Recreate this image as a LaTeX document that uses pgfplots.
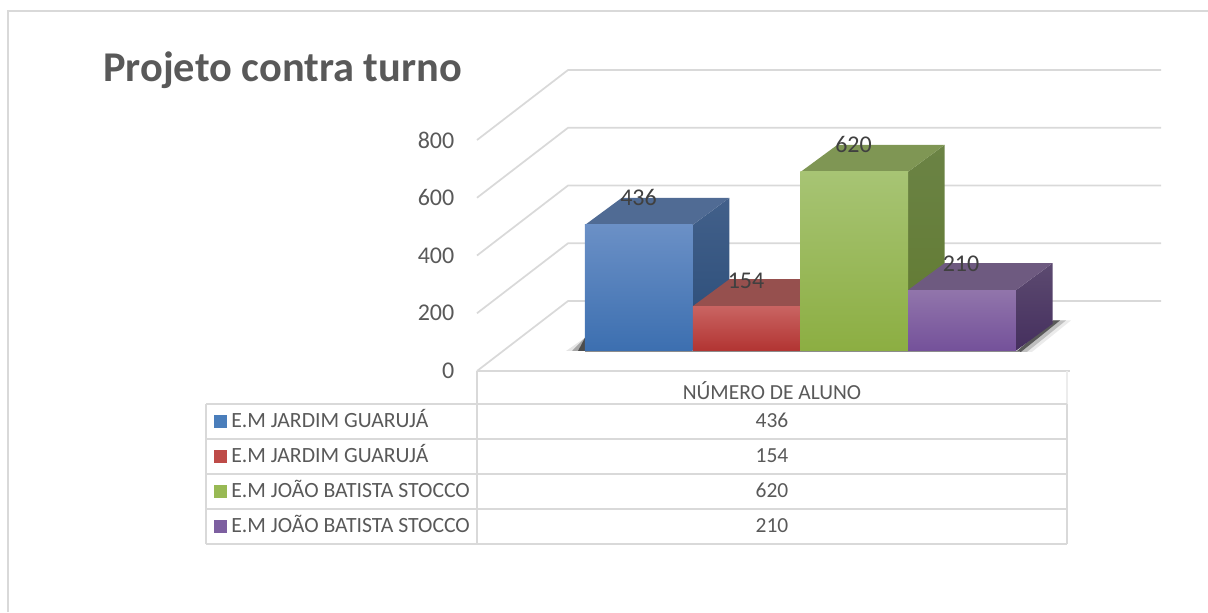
\documentclass[border=0pt]{standalone}
\usepackage{fontspec}
\setmainfont{Carlito}
\usepackage{pgfplots}
\pgfplotsset{compat=1.18}

\definecolor{txt}{HTML}{595959}
\definecolor{lbl}{HTML}{404040}
\definecolor{rule}{HTML}{D9D9D9}

\definecolor{blueF}{HTML}{4A7EBB}
\definecolor{blueF1}{HTML}{6B90C6}
\definecolor{blueF2}{HTML}{3C6FB0}
\definecolor{blueT}{HTML}{506B94}
\definecolor{blueS1}{HTML}{42608A}
\definecolor{blueS2}{HTML}{2A4C78}
\definecolor{redF}{HTML}{BE4B48}
\definecolor{redF1}{HTML}{C96462}
\definecolor{redF2}{HTML}{B23432}
\definecolor{redT}{HTML}{96504E}
\definecolor{greenF}{HTML}{98B954}
\definecolor{greenF1}{HTML}{A7C474}
\definecolor{greenF2}{HTML}{8CAE42}
\definecolor{greenT}{HTML}{7F9654}
\definecolor{greenS1}{HTML}{6B8345}
\definecolor{greenS2}{HTML}{617A30}
\definecolor{purpleF}{HTML}{7D5FA0}
\definecolor{purpleF1}{HTML}{9175AB}
\definecolor{purpleF2}{HTML}{74519A}
\definecolor{purpleT}{HTML}{6E5A80}
\definecolor{purpleS1}{HTML}{5C4A70}
\definecolor{purpleS2}{HTML}{452F5E}

% front face of one bar, real value on y
\pgfplotsset{front/.style n args={2}{ybar, bar shift=0pt, bar width=80.8pt, draw=none, top color=#1, bottom color=#2}}

\begin{document}
\begin{tikzpicture}
\useasboundingbox (0pt,0pt) rectangle (906pt,-459pt);

% back walls and tick labels: 0 to 800 on the front edge
\begin{axis}[
    at={(357.75pt,-278.25pt)}, anchor=south west,
    scale only axis, width=513pt, height=173.25pt,
    xmin=477, xmax=1161, ymin=0, ymax=800,
    clip=false,
    axis line style={draw=none},
    major tick length=0pt,
    xtick=\empty,
    ytick={0,200,400,600,800},
    yticklabel style={font=\fontsize{18}{20}\selectfont, text=txt, xshift=-13.5pt, /pgf/number format/assume math mode=true},
]
\addplot[rule, line width=1.3pt] coordinates {(477,0)(568,242.4)(1161,242.4)};
\addplot[rule, line width=1.3pt] coordinates {(477,200)(568,442.4)(1161,442.4)};
\addplot[rule, line width=1.3pt] coordinates {(477,400)(568,642.4)(1161,642.4)};
\addplot[rule, line width=1.3pt] coordinates {(477,600)(568,842.4)(1161,842.4)};
\addplot[rule, line width=1.3pt] coordinates {(477,800)(568,1042.4)(1161,1042.4)};
\end{axis}

% bars: x in picture pixels, y in students
\begin{axis}[
    at={(0pt,-459pt)}, anchor=south west,
    scale only axis, width=906pt, height=459pt,
    xmin=0, xmax=1208, ymin=-905.7, ymax=1215.6,
    hide axis, clip=false,
]
% floor shadow, in bands that fade outwards
\addplot[draw=none, fill=black!8] coordinates {(1016,-4)(1053,105)(1071,105)(1032,-4)} -- cycle;
\addplot[draw=none, fill=black!25] coordinates {(1016,-4)(1053,105)(1066,105)(1027,-4)} -- cycle;
\addplot[draw=none, fill=black!65] coordinates {(1016,-4)(1053,105)(1060,105)(1021,-4)} -- cycle;
\addplot[draw=none, fill=black!10] coordinates {(566,-1)(585,45)(585,-1)} -- cycle;
\addplot[draw=none, fill=black!35] coordinates {(572,-1)(585,45)(585,-1)} -- cycle;
\addplot[draw=none, fill=black!70] coordinates {(578,-1)(585,45)(585,-1)} -- cycle;
\addplot[black!45, line width=0.9pt] coordinates {(585,-2)(1020,-2)};

% blue
\addplot[draw=none, top color=blueS1, bottom color=blueS2] coordinates {(692.7,436)(729.4,529.7)(729.4,93.7)(692.7,0)} -- cycle;
\addplot[draw=none, fill=blueT] coordinates {(585,436)(692.7,436)(729.4,529.7)(621.7,529.7)} -- cycle;
\addplot[front={blueF1}{blueF2}] coordinates {(638.85,436)};

% red
\addplot[draw=none, fill=redT] coordinates {(692.7,154)(800.7,154)(837.4,247.7)(729.4,247.7)} -- cycle;
\addplot[front={redF1}{redF2}] coordinates {(746.7,154)};

% green
\addplot[draw=none, top color=greenS1, bottom color=greenS2] coordinates {(908,620)(944.7,713.7)(944.7,93.7)(908,0)} -- cycle;
\addplot[draw=none, fill=greenT] coordinates {(800.7,620)(908,620)(944.7,713.7)(837.4,713.7)} -- cycle;
\addplot[front={greenF1}{greenF2}] coordinates {(854.35,620)};

% purple
\addplot[draw=none, top color=purpleS1, bottom color=purpleS2] coordinates {(1016,210)(1052.7,303.7)(1052.7,93.7)(1016,0)} -- cycle;
\addplot[draw=none, fill=purpleT] coordinates {(908,210)(1016,210)(1052.7,303.7)(944.7,303.7)} -- cycle;
\addplot[front={purpleF1}{purpleF2}] coordinates {(962,210)};

% value labels
\node[font=\fontsize{18}{20}\selectfont, text=lbl] at (axis cs:638.5,530) {436};
\node[font=\fontsize{18}{20}\selectfont, text=lbl] at (axis cs:746,243) {154};
\node[font=\fontsize{18}{20}\selectfont, text=lbl] at (axis cs:853.5,716) {620};
\node[font=\fontsize{18}{20}\selectfont, text=lbl] at (axis cs:961,301) {210};
\end{axis}

% frame, title and data table, in picture pixels
\begin{scope}[x=0.75pt, y=-0.75pt]
\draw[rule, line width=1.1pt] (8,612) -- (8,11) -- (1208,11);
\node[anchor=base west, inner sep=0pt, text=txt, font=\fontsize{31.8}{34}\selectfont\bfseries] at (103,81) {Projeto contra turno};

\draw[rule, line width=1.3pt] (477,371) -- (1070,371);
\draw[rule!50, line width=1.1pt] (1067,371) -- (1067,404);
\draw[rule, line width=1.3pt] (206,404) -- (1067,404);
\draw[rule, line width=1.3pt] (206,439) -- (1067,439);
\draw[rule, line width=1.3pt] (206,474) -- (1067,474);
\draw[rule, line width=1.3pt] (206,509) -- (1067,509);
\draw[rule, line width=1.3pt] (206,544) -- (1067,544);
\draw[rule, line width=1.3pt] (206,404) -- (206,544);
\draw[rule, line width=1.3pt] (477,371) -- (477,544);
\draw[rule, line width=1.9pt] (1067,404) -- (1067,544);

\fill[blueF] (214,415) rectangle (227,428);
\fill[redF] (214,450) rectangle (227,463);
\fill[greenF] (214,485) rectangle (227,498);
\fill[purpleF] (214,520) rectangle (227,533);

\tikzset{rowname/.style={anchor=base west, inner sep=0pt, text=txt, font=\fontsize{16.3}{18}\selectfont},
         cell/.style={anchor=base, inner sep=0pt, text=txt, font=\fontsize{16.1}{18}\selectfont}}
\node[rowname] at (231,427.5) {E.M JARDIM GUARUJÁ};
\node[rowname] at (231,462.5) {E.M JARDIM GUARUJÁ};
\node[rowname] at (231,497.5) {E.M JOÃO BATISTA STOCCO};
\node[rowname] at (231,532.5) {E.M JOÃO BATISTA STOCCO};
\node[cell] at (772,399.5) {NÚMERO DE ALUNO};
\node[cell] at (772,427.5) {436};
\node[cell] at (772,462.5) {154};
\node[cell] at (772,497.5) {620};
\node[cell] at (772,532.5) {210};
\end{scope}
\end{tikzpicture}
\end{document}
